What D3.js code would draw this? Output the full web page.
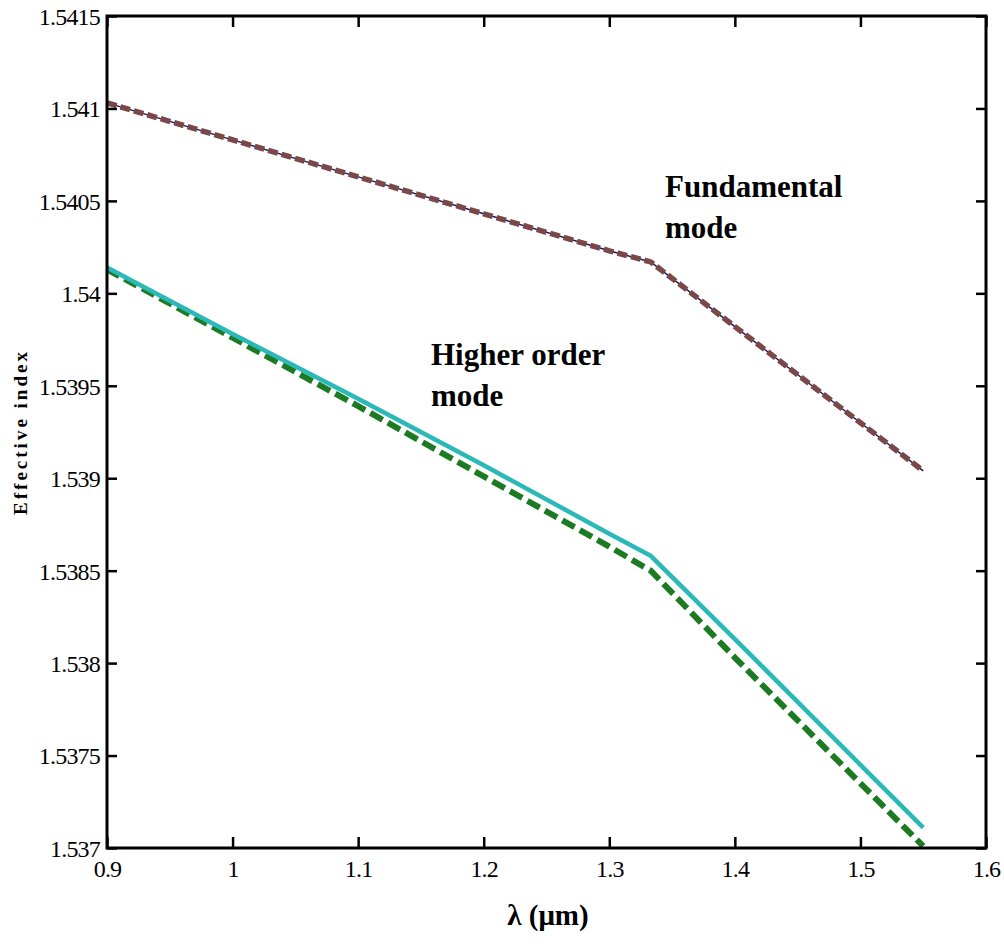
<!DOCTYPE html>
<html><head><meta charset="utf-8">
<script src="https://cdn.jsdelivr.net/npm/d3@7/dist/d3.min.js"></script>
<style>body{margin:0;background:#fff}</style>
</head><body>
<svg id="c" width="1004" height="947"></svg>
<script>
const wavelength = [0.9, 1.0, 1.1, 1.2, 1.3, 1.333, 1.4, 1.5, 1.55];
const fundamental = [1.54103, 1.54083, 1.54063, 1.54043, 1.54023, 1.54017, 1.53982, 1.53930, 1.53904];
const higherSolid = [1.54014, 1.53978, 1.53943, 1.53907, 1.53870, 1.53858, 1.53813, 1.53745, 1.53711];
const higherDashed = [1.54013, 1.53976, 1.53939, 1.53901, 1.53863, 1.53850, 1.53803, 1.53735, 1.53701];
const xTicks = [0.9, 1.0, 1.1, 1.2, 1.3, 1.4, 1.5, 1.6];
const xTickLabels = ["0.9", "1", "1.1", "1.2", "1.3", "1.4", "1.5", "1.6"];
const yTicks = [1.537, 1.5375, 1.538, 1.5385, 1.539, 1.5395, 1.540, 1.5405, 1.541, 1.5415];
const yTickLabels = ["1.537", "1.5375", "1.538", "1.5385", "1.539", "1.5395", "1.54", "1.5405", "1.541", "1.5415"];

(function () {
const L = 107, R = 986, T = 16, B = 848;
const svg = d3.select("#c");
const x = d3.scaleLinear().domain([0.9, 1.6]).range([L, R]);
const y = d3.scaleLinear().domain([1.537, 1.5415]).range([B, T]);
const FONT = "Liberation Serif";

const line = (vals) => d3.line().x((d, i) => x(wavelength[i])).y((d) => y(d))(vals);

// series
svg.append("path").attr("d", line(fundamental)).attr("fill", "none")
  .attr("stroke", "#1a1a5a").attr("stroke-width", 1.5);
svg.append("path").attr("d", line(fundamental)).attr("fill", "none")
  .attr("stroke", "#7a4848").attr("stroke-width", 5.5).attr("stroke-dasharray", "10,4");
svg.append("path").attr("d", line(higherDashed)).attr("fill", "none")
  .attr("stroke", "#1b7a22").attr("stroke-width", 6).attr("stroke-dasharray", "14,6");
svg.append("path").attr("d", line(higherSolid)).attr("fill", "none")
  .attr("stroke", "#2bb8b8").attr("stroke-width", 4.5);

// axes (ticks inside on all sides)
const fmtX = (d) => xTickLabels[xTicks.indexOf(d)];
const fmtY = (d) => yTickLabels[yTicks.indexOf(d)];
const gBottom = svg.append("g").attr("transform", `translate(0,${B})`)
  .call(d3.axisBottom(x).tickValues(xTicks).tickFormat(fmtX).tickSizeInner(-11).tickSizeOuter(0).tickPadding(19));
const gTop = svg.append("g").attr("transform", `translate(0,${T})`)
  .call(d3.axisTop(x).tickValues(xTicks).tickFormat("").tickSizeInner(-11).tickSizeOuter(0));
const gLeft = svg.append("g").attr("transform", `translate(${L},0)`)
  .call(d3.axisLeft(y).tickValues(yTicks).tickFormat(fmtY).tickSizeInner(-10).tickSizeOuter(0).tickPadding(7));
const gRight = svg.append("g").attr("transform", `translate(${R},0)`)
  .call(d3.axisRight(y).tickValues(yTicks).tickFormat("").tickSizeInner(-10).tickSizeOuter(0));
[gBottom, gTop, gLeft, gRight].forEach(g => {
  g.attr("font-family", FONT).attr("font-size", 24);
  g.select(".domain").remove();
  g.selectAll(".tick line").attr("stroke", "#000").attr("stroke-width", 2.5);
  g.selectAll(".tick text").attr("fill", "#000").attr("font-family", FONT)
    .attr("font-size", 24).style("letter-spacing", "-0.8px");
});
gLeft.selectAll(".tick text").attr("dy", "0.35em");
gBottom.selectAll(".tick text").attr("dy", "0.42em");
svg.append("rect").attr("x", L).attr("y", T).attr("width", R - L).attr("height", B - T)
  .attr("fill", "none").attr("stroke", "#000").attr("stroke-width", 3);

// annotations
const ann = (tx, ty, lines) => {
  const t = svg.append("text").attr("x", tx).attr("y", ty)
    .attr("font-family", FONT).attr("font-weight", "bold").attr("font-size", 31).attr("fill", "#000");
  lines.forEach((s, i) => t.append("tspan").attr("x", tx).attr("dy", i ? 41 : 0).text(s));
};
ann(665, 197, ["Fundamental", "mode"]);
ann(431, 365, ["Higher order", "mode"]);

// axis titles
svg.append("text").attr("transform", `translate(27,432) rotate(-90)`).attr("text-anchor", "middle")
  .attr("font-family", FONT).attr("font-weight", "bold").attr("font-size", 19)
  .style("letter-spacing", "3px").attr("fill", "#000").text("Effective index");
svg.append("text").attr("x", 548).attr("y", 925).attr("text-anchor", "middle")
  .attr("font-family", FONT).attr("font-weight", "bold").attr("font-size", 29)
  .attr("fill", "#000").text("λ (μm)");
})();
</script>
</body></html>
